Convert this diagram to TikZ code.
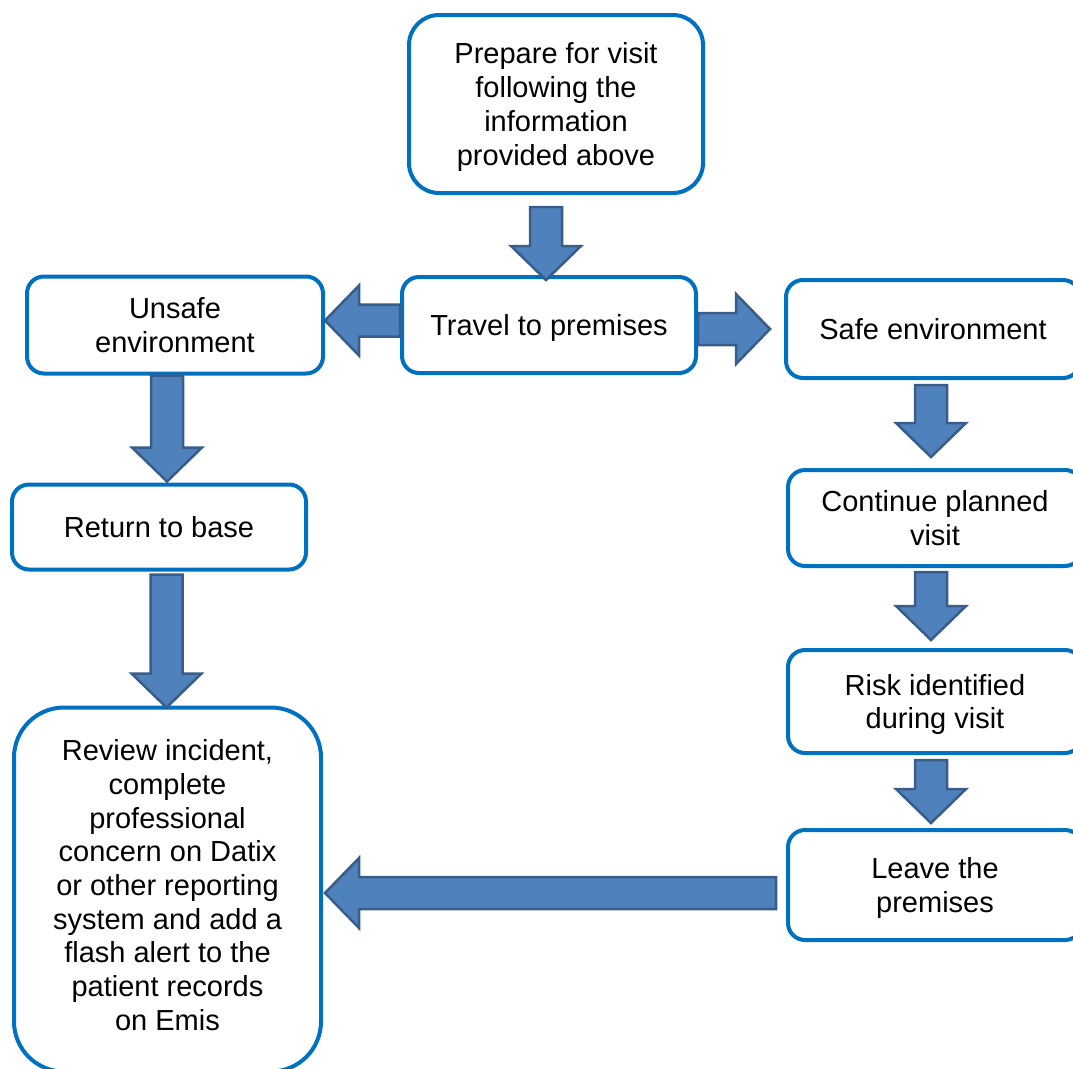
\documentclass[tikz,border=0pt]{standalone}
\usepackage{fontspec}
\setmainfont{Liberation Sans}
\usetikzlibrary{positioning,calc}
\definecolor{boxblue}{HTML}{0070C0}
\definecolor{arrowfill}{HTML}{4F81BD}
\definecolor{arrowedge}{HTML}{385D8A}

% block arrow from #2 to #3, head length #1
\newcommand{\blockarrow}[3][34pt]{%
  \path[flow] let \p1=(#2), \p2=(#3),
    \n1={atan2(\y2-\y1,\x2-\x1)}, \n2={veclen(\x2-\x1,\y2-\y1)} in
    {[shift={(\p1)},rotate=\n1]
    (0pt,16pt) -- (\n2-#1,16pt) -- (\n2-#1,35pt) -- (\n2,0pt)
    -- (\n2-#1,-35pt) -- (\n2-#1,-16pt) -- (0pt,-16pt) -- cycle};}

\begin{document}
\begin{tikzpicture}[x=1pt,y=1pt,font=\fontsize{29}{33.7}\selectfont,
  box/.style={draw=boxblue,line width=4pt,fill=white,rounded corners=17pt,align=center,inner sep=4pt,minimum width=294pt,text depth=0pt},
  flow/.style={draw=arrowedge,fill=arrowfill,line width=2.5pt,line join=miter}]
  \useasboundingbox (0,0) rectangle (1073,-1068);

  \node[box,rounded corners=30pt,minimum height=178pt] (prep) at (556,-104) {Prepare for visit\\following the\\information\\provided above};
  \node[box,minimum height=96pt,below=80pt of prep,xshift=-7pt] (travel) {Travel to premises};
  \node[box,minimum width=296pt,minimum height=97pt,left=75pt of travel] (unsafe) {Unsafe\\environment};
  \node[box,minimum height=98pt,right=86pt of travel,yshift=-4pt] (safe) {Safe environment};
  \node[box,minimum height=96pt,below=88pt of safe,xshift=2pt] (cont) {Continue planned\\visit};
  \node[box,minimum height=103pt,below=80pt of cont] (risk) {Risk identified\\during visit};
  \node[box,minimum height=110pt,below=73pt of risk] (leave) {Leave the\\premises};
  \node[box,minimum height=85pt,below=107pt of unsafe,xshift=-16pt] (ret) {Return to base};
  \node[box,rounded corners=50pt,minimum width=307pt,minimum height=364pt,text depth=9pt,below=134pt of ret,xshift=8.5pt] (review) {Review incident,\\complete\\professional\\concern on Datix\\or other reporting\\system and add a\\flash alert to the\\patient records\\on Emis};

  % block arrows
  \blockarrow{$(prep.south)+(-10,-12)$}{$(prep.south |- travel.north)+(-10,-5)$}
  \blockarrow{$(travel.west)+(0,4.5)$}{$(travel.west -| unsafe.east)+(0,4.5)$}
  \blockarrow{$(travel.east)+(0,-4)$}{$(travel.east -| safe.west)+(-14,-4)$}
  \blockarrow{$(unsafe.south)+(-8,0)$}{$(unsafe.south |- ret.north)+(-8,1)$}
  \blockarrow{$(ret.south)+(7.5,-3)$}{$(ret.south |- review.north)+(7.5,-2)$}
  \blockarrow{$(safe.south)+(-2,-5)$}{$(safe.south |- cont.north)+(-2,11)$}
  \blockarrow{$(cont.south)+(-4,-4)$}{$(cont.south |- risk.north)+(-4,8)$}
  \blockarrow{$(risk.south)+(-4,-5)$}{$(risk.south |- leave.north)+(-4,5)$}
  \blockarrow{$(leave.west)+(-10,-8)$}{$(leave.west -| review.east)+(2,-8)$}
\end{tikzpicture}
\end{document}
